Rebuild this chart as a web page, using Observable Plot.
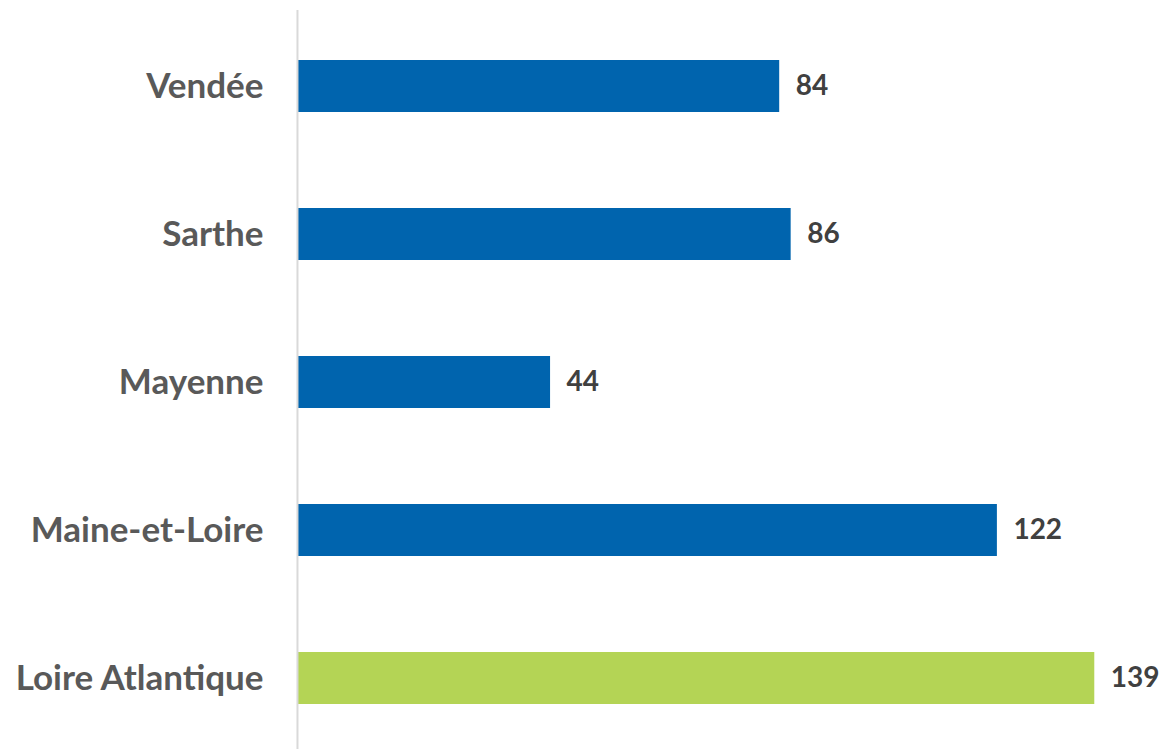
<!DOCTYPE html>
<html>
<head>
<meta charset="utf-8">
<script src="https://cdn.jsdelivr.net/npm/d3@7"></script>
<script src="https://cdn.jsdelivr.net/npm/@observablehq/plot@0.6"></script>
<style>
  html, body { margin: 0; padding: 0; background: #fff; }
</style>
</head>
<body>
<div id="chart"></div>
<script>
const departements = ["Vendée", "Sarthe", "Mayenne", "Maine-et-Loire", "Loire Atlantique"];
const valeurs = [84, 86, 44, 122, 139];
const highlight = ["Loire Atlantique"];

const data = departements.map((d, i) => ({dep: d, value: valeurs[i], hl: highlight.includes(d)}));

const chart = Plot.plot({
  width: 1163,
  height: 749,
  marginLeft: 298,
  marginRight: 8,
  marginTop: 10,
  marginBottom: 0,
  style: {fontFamily: "Lato, 'Open Sans', sans-serif", background: "#fff"},
  x: {domain: [0, 149.6], axis: null},
  y: {domain: departements, range: [10, 753], paddingInner: 0.65, paddingOuter: 0.325, label: null},
  marks: [
    Plot.barX(data, {y: "dep", x: "value", fill: d => d.hl ? "#B4D455" : "#0064AE"}),
    Plot.ruleX([0], {x: () => -0.18, stroke: "#d9d9d9", strokeWidth: 2}),
    Plot.axisY({tickSize: 0, tickPadding: 35, fontSize: 35, fontWeight: "bold", fill: "#595959", label: null}),
    Plot.text(data, {y: "dep", x: "value", text: d => String(d.value), dx: 16, textAnchor: "start", fontSize: 28, fontWeight: "bold", fill: "#404040"})
  ]
});
document.getElementById("chart").appendChild(chart);
</script>
</body>
</html>
